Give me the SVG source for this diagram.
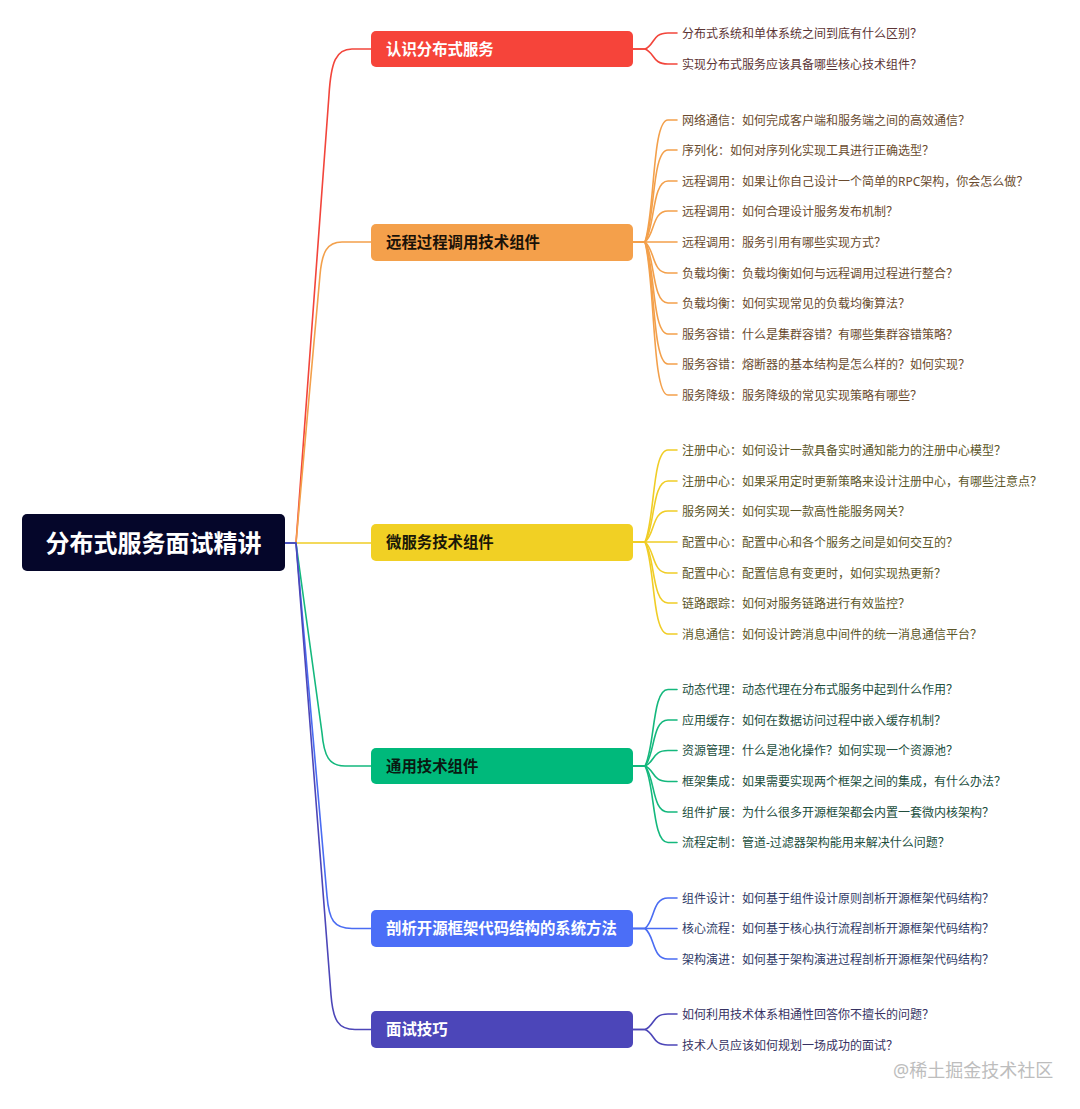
<svg xmlns="http://www.w3.org/2000/svg" width="1080" height="1109" viewBox="0 0 1080 1109">
<style>
text{font-family:"Noto Sans","Noto Sans CJK SC",sans-serif}
.root{font-size:24px;font-weight:bold;fill:#ffffff}
.br{font-size:15.4px;font-weight:bold}
.lf{font-size:12px;dominant-baseline:central}
.c{fill:none;stroke-width:1.6;stroke-linecap:round;stroke-linejoin:round}
.red{stroke:#f2453b}.org{stroke:#f3a04b}.yel{stroke:#f0cd26}.grn{stroke:#14b87d}.blu{stroke:#4a6cf2}.ind{stroke:#4c46b8}
.tred{fill:#5c3434}.torg{fill:#6a4b2e}.tyel{fill:#5c5628}.tgrn{fill:#214e3d}.tblu{fill:#2f3b68}.tind{fill:#363262}
</style>
<rect width="1080" height="1109" fill="#ffffff"/>
<g id="connectors">
<path class="c red" d="M285,543 H296 L329,95 C331,62 336,49 352,49 H371"/>
<path class="c org" d="M285,543 H296 L320,275 C322,252 327,242 342,242 H371"/>
<path class="c yel" d="M285,543 H371"/>
<path class="c grn" d="M285,543 H296 L322,733 C324,756 329,766 345,766 H371"/>
<path class="c blu" d="M285,543 H296 L327,896 C329,920 334,928.5 352,928.5 H371"/>
<path class="c ind" d="M285,543 H296 L331,995 C333,1020 338,1029.5 355,1029.5 H371"/>

<path class="c red" d="M633,49 H645 C655,45 652,33 668,33 H677"/>
<path class="c red" d="M633,49 H645 C655,53 652,64 668,64 H677"/>

<path class="c org" d="M633,242 H645 C655,211.5 652,120 668,120 H677"/>
<path class="c org" d="M633,242 H645 C655,219 652,150 668,150 H677"/>
<path class="c org" d="M633,242 H645 C655,227 652,181 668,181 H677"/>
<path class="c org" d="M633,242 H645 C655,234 652,211 668,211 H677"/>
<path class="c org" d="M633,242 H677"/>
<path class="c org" d="M633,242 H645 C655,250 652,273 668,273 H677"/>
<path class="c org" d="M633,242 H645 C655,257 652,303 668,303 H677"/>
<path class="c org" d="M633,242 H645 C655,265 652,334 668,334 H677"/>
<path class="c org" d="M633,242 H645 C655,272.5 652,364 668,364 H677"/>
<path class="c org" d="M633,242 H645 C655,280 652,395 668,395 H677"/>

<path class="c yel" d="M633,542 H645 C655,519 652,450 668,450 H677"/>
<path class="c yel" d="M633,542 H645 C655,527 652,481 668,481 H677"/>
<path class="c yel" d="M633,542 H645 C655,534 652,511 668,511 H677"/>
<path class="c yel" d="M633,542 H677"/>
<path class="c yel" d="M633,542 H645 C655,550 652,573 668,573 H677"/>
<path class="c yel" d="M633,542 H645 C655,557 652,603 668,603 H677"/>
<path class="c yel" d="M633,542 H645 C655,565 652,634 668,634 H677"/>

<path class="c grn" d="M633,766 H645 C655,747 652,689.5 668,689.5 H677"/>
<path class="c grn" d="M633,766 H645 C655,754.5 652,720 668,720 H677"/>
<path class="c grn" d="M633,766 H645 C655,762 652,750.5 668,750.5 H677"/>
<path class="c grn" d="M633,766 H645 C655,770 652,781.5 668,781.5 H677"/>
<path class="c grn" d="M633,766 H645 C655,777.5 652,812 668,812 H677"/>
<path class="c grn" d="M633,766 H645 C655,785 652,842.5 668,842.5 H677"/>

<path class="c blu" d="M633,928.5 H645 C655,921 652,898 668,898 H677"/>
<path class="c blu" d="M633,928.5 H677"/>
<path class="c blu" d="M633,928.5 H645 C655,936 652,959 668,959 H677"/>

<path class="c ind" d="M633,1029.5 H645 C655,1025.5 652,1014 668,1014 H677"/>
<path class="c ind" d="M633,1029.5 H645 C655,1033.5 652,1045 668,1045 H677"/>
</g>

<g id="root">
<rect x="22" y="514" width="263" height="57" rx="5" fill="#05062a"/>
<text class="root" x="153.5" y="551.5" text-anchor="middle">分布式服务面试精讲</text>
</g>

<g id="b1">
<rect x="371" y="31" width="262" height="36" rx="5" fill="#f6443a"/>
<text class="br" x="386" y="54.5" fill="#ffffff">认识分布式服务</text>
</g>
<g id="b2">
<rect x="371" y="224" width="262" height="37" rx="5" fill="#f4a04b"/>
<text class="br" x="386" y="248" fill="#1a1208">远程过程调用技术组件</text>
</g>
<g id="b3">
<rect x="371" y="524" width="262" height="37" rx="5" fill="#f1d024"/>
<text class="br" x="386" y="548" fill="#1a1808">微服务技术组件</text>
</g>
<g id="b4">
<rect x="371" y="748" width="262" height="36" rx="5" fill="#00b97b"/>
<text class="br" x="386" y="771.5" fill="#0a1a12">通用技术组件</text>
</g>
<g id="b5">
<rect x="371" y="910" width="262" height="37" rx="5" fill="#4b6ef7"/>
<text class="br" x="386" y="934" fill="#ffffff">剖析开源框架代码结构的系统方法</text>
</g>
<g id="b6">
<rect x="371" y="1011" width="262" height="37" rx="5" fill="#4c46b9"/>
<text class="br" x="386" y="1035" fill="#ffffff">面试技巧</text>
</g>

<g id="leaves-b1">
<text class="lf tred" x="682" y="33">分布式系统和单体系统之间到底有什么区别？</text>
<text class="lf tred" x="682" y="64">实现分布式服务应该具备哪些核心技术组件？</text>
</g>
<g id="leaves-b2">
<text class="lf torg" x="682" y="120">网络通信：如何完成客户端和服务端之间的高效通信？</text>
<text class="lf torg" x="682" y="150">序列化：如何对序列化实现工具进行正确选型？</text>
<text class="lf torg" x="682" y="181">远程调用：如果让你自己设计一个简单的RPC架构，你会怎么做？</text>
<text class="lf torg" x="682" y="211">远程调用：如何合理设计服务发布机制？</text>
<text class="lf torg" x="682" y="242">远程调用：服务引用有哪些实现方式？</text>
<text class="lf torg" x="682" y="273">负载均衡：负载均衡如何与远程调用过程进行整合？</text>
<text class="lf torg" x="682" y="303">负载均衡：如何实现常见的负载均衡算法？</text>
<text class="lf torg" x="682" y="334">服务容错：什么是集群容错？有哪些集群容错策略？</text>
<text class="lf torg" x="682" y="364">服务容错：熔断器的基本结构是怎么样的？如何实现？</text>
<text class="lf torg" x="682" y="395">服务降级：服务降级的常见实现策略有哪些？</text>
</g>
<g id="leaves-b3">
<text class="lf tyel" x="682" y="450">注册中心：如何设计一款具备实时通知能力的注册中心模型？</text>
<text class="lf tyel" x="682" y="481">注册中心：如果采用定时更新策略来设计注册中心，有哪些注意点？</text>
<text class="lf tyel" x="682" y="511">服务网关：如何实现一款高性能服务网关？</text>
<text class="lf tyel" x="682" y="542">配置中心：配置中心和各个服务之间是如何交互的？</text>
<text class="lf tyel" x="682" y="573">配置中心：配置信息有变更时，如何实现热更新？</text>
<text class="lf tyel" x="682" y="603">链路跟踪：如何对服务链路进行有效监控？</text>
<text class="lf tyel" x="682" y="634">消息通信：如何设计跨消息中间件的统一消息通信平台？</text>
</g>
<g id="leaves-b4">
<text class="lf tgrn" x="682" y="689.5">动态代理：动态代理在分布式服务中起到什么作用？</text>
<text class="lf tgrn" x="682" y="720">应用缓存：如何在数据访问过程中嵌入缓存机制？</text>
<text class="lf tgrn" x="682" y="750.5">资源管理：什么是池化操作？如何实现一个资源池？</text>
<text class="lf tgrn" x="682" y="781.5">框架集成：如果需要实现两个框架之间的集成，有什么办法？</text>
<text class="lf tgrn" x="682" y="812">组件扩展：为什么很多开源框架都会内置一套微内核架构？</text>
<text class="lf tgrn" x="682" y="842.5">流程定制：管道-过滤器架构能用来解决什么问题？</text>
</g>
<g id="leaves-b5">
<text class="lf tblu" x="682" y="898">组件设计：如何基于组件设计原则剖析开源框架代码结构？</text>
<text class="lf tblu" x="682" y="928.5">核心流程：如何基于核心执行流程剖析开源框架代码结构？</text>
<text class="lf tblu" x="682" y="959">架构演进：如何基于架构演进过程剖析开源框架代码结构？</text>
</g>
<g id="leaves-b6">
<text class="lf tind" x="682" y="1014">如何利用技术体系相通性回答你不擅长的问题？</text>
<text class="lf tind" x="682" y="1045">技术人员应该如何规划一场成功的面试？</text>
</g>
<text x="893" y="1077" font-size="18" fill="#bdbdbd">@稀土掘金技术社区</text>
</svg>
